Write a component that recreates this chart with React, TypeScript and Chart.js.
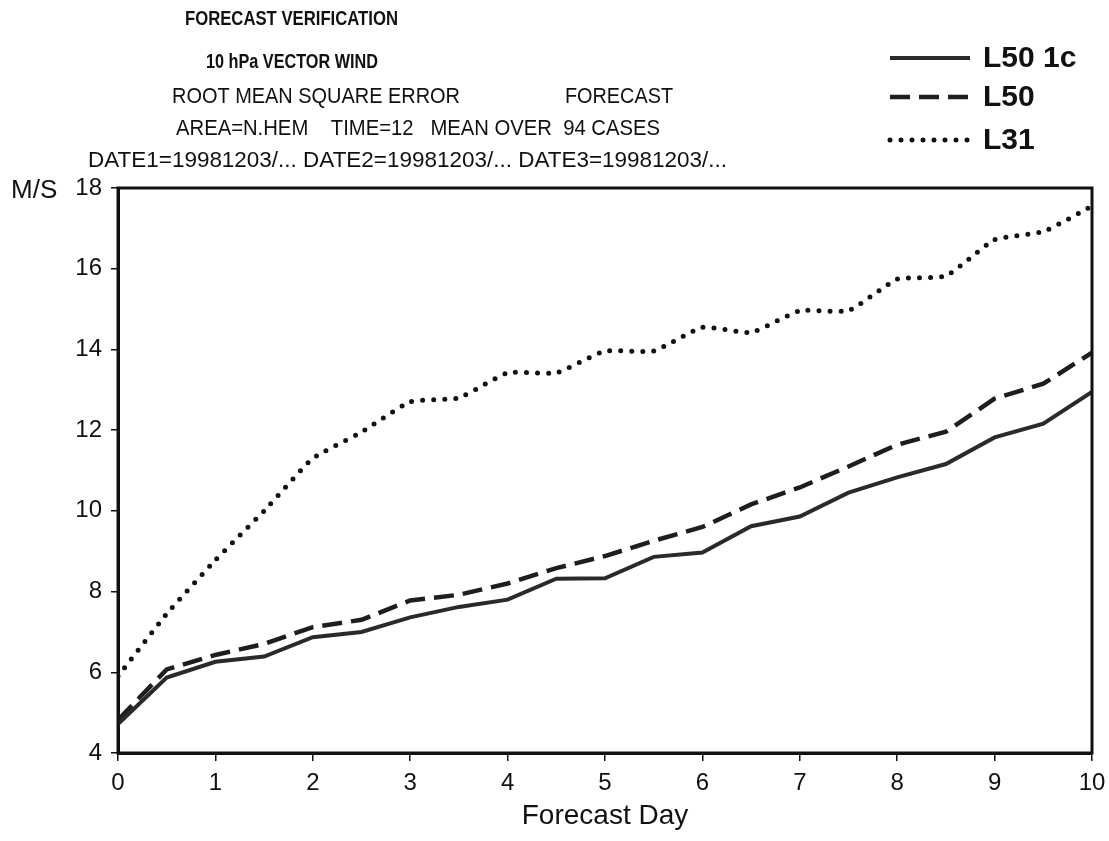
import React, { useEffect, useRef } from "react";
import { Chart, registerables } from "chart.js";

Chart.register(...registerables);

// ---------- data ----------
const forecastDays = [0, 0.5, 1, 1.5, 2, 2.5, 3, 3.5, 4, 4.5, 5, 5.5, 6, 6.5, 7, 7.5, 8, 8.5, 9, 9.5, 10];
const seriesL50_1c = [4.72, 5.87, 6.26, 6.39, 6.87, 7.0, 7.36, 7.62, 7.8, 8.32, 8.33, 8.86, 8.97, 9.62, 9.86, 10.45, 10.83, 11.16, 11.82, 12.16, 12.95];
const seriesL50 = [4.82, 6.07, 6.43, 6.7, 7.12, 7.3, 7.78, 7.92, 8.2, 8.58, 8.88, 9.26, 9.6, 10.16, 10.58, 11.1, 11.64, 11.96, 12.78, 13.15, 13.92];
const seriesL31 = [5.9, 7.45, 8.78, 10.0, 11.3, 11.95, 12.7, 12.8, 13.42, 13.42, 13.96, 13.96, 14.55, 14.42, 14.96, 14.96, 15.74, 15.82, 16.72, 16.92, 17.55];
const seriesNames = ["L50 1c", "L50", "L31"];
const yTickValues = [4, 6, 8, 10, 12, 14, 16, 18];
const xTickValues = [0, 1, 2, 3, 4, 5, 6, 7, 8, 9, 10];
const titleText = ["FORECAST VERIFICATION", "10 hPa VECTOR WIND"];
const infoText = [
  "ROOT MEAN SQUARE ERROR",
  "FORECAST",
  "AREA=N.HEM    TIME=12   MEAN OVER  94 CASES",
  "DATE1=19981203/... DATE2=19981203/... DATE3=19981203/...",
];
const yAxisTitle = "M/S";
const xAxisTitle = "Forecast Day";

// ---------- layout (positions / styles) ----------
const W = 1109;
const H = 841;
const FONT = "'Liberation Sans', Arial, Helvetica, sans-serif";
const INK = "#111";

// [x start, y middle, max width, font size]
const titleLayout = [
  [185, 19, 213, 21],
  [206, 62, 172, 21],
];
const infoLayout = [
  [172, 97, 288, 22],
  [565, 97, 108, 22],
  [176, 129, 484, 22],
  [88, 161, 639, 22.5],
];
const legendLayout = { x1: 890, x2: 970, textX: 983, ys: [58, 97, 140], widths: [100, 57, 52] };

const overlayPlugin = {
  id: "overlay",
  afterDraw(chart: any) {
    const ctx: CanvasRenderingContext2D = chart.ctx;
    const a = chart.chartArea;
    ctx.save();
    // frame
    ctx.strokeStyle = INK;
    ctx.lineWidth = 3;
    ctx.strokeRect(a.left, a.top, a.right - a.left, a.bottom - a.top);

    ctx.fillStyle = INK;
    ctx.textBaseline = "middle";
    ctx.textAlign = "left";
    // titles
    titleText.forEach((t, i) => {
      const [x, y, w, fs] = titleLayout[i];
      ctx.font = `bold ${fs}px ${FONT}`;
      ctx.fillText(t, x, y, w);
    });
    infoText.forEach((t, i) => {
      const [x, y, w, fs] = infoLayout[i];
      ctx.font = `${fs}px ${FONT}`;
      ctx.fillText(t, x, y, w);
    });
    // axis titles
    ctx.font = `26px ${FONT}`;
    ctx.fillText(yAxisTitle, 11, 191, 49);
    ctx.font = `28px ${FONT}`;
    ctx.textAlign = "center";
    ctx.fillText(xAxisTitle, (a.left + a.right) / 2, 816, 178);

    // legend
    ctx.textAlign = "left";
    chart.data.datasets.forEach((ds: any, i: number) => {
      const y = legendLayout.ys[i];
      ctx.save();
      ctx.strokeStyle = ds.borderColor;
      ctx.lineWidth = ds.borderWidth;
      ctx.setLineDash(ds.borderDash || []);
      ctx.lineCap = ds.borderCapStyle || "butt";
      ctx.beginPath();
      ctx.moveTo(legendLayout.x1, y);
      ctx.lineTo(legendLayout.x2, y);
      ctx.stroke();
      ctx.restore();
      ctx.font = `bold 30px ${FONT}`;
      ctx.fillStyle = INK;
      ctx.fillText(ds.label, legendLayout.textX, y + 1, legendLayout.widths[i]);
    });
    ctx.restore();
  },
};

export default function App() {
  const ref = useRef<HTMLCanvasElement | null>(null);

  useEffect(() => {
    if (!ref.current) return;
    const toPts = (vals: number[]) => vals.map((v, i) => ({ x: forecastDays[i], y: v }));
    const chart = new Chart(ref.current, {
      type: "line",
      data: {
        datasets: [
          {
            label: seriesNames[0],
            data: toPts(seriesL50_1c),
            borderColor: "#2a2a2a",
            borderWidth: 4,
            pointRadius: 0,
            tension: 0,
          },
          {
            label: seriesNames[1],
            data: toPts(seriesL50),
            borderColor: "#1e1e1e",
            borderWidth: 4.5,
            borderDash: [20, 9],
            pointRadius: 0,
            tension: 0,
          },
          {
            label: seriesNames[2],
            data: toPts(seriesL31),
            borderColor: "#111",
            borderWidth: 5,
            borderDash: [0, 11],
            borderCapStyle: "round",
            pointRadius: 0,
            tension: 0.15,
          },
        ] as any,
      },
      options: {
        responsive: false,
        animation: false,
        layout: { padding: { left: 0, right: 17, top: 188, bottom: 0 } },
        plugins: {
          legend: { display: false },
          tooltip: { enabled: false },
          title: { display: false },
        },
        scales: {
          x: {
            type: "linear",
            min: 0,
            max: 10,
            afterBuildTicks: (s: any) => {
              s.ticks = xTickValues.map((v) => ({ value: v }));
            },
            afterFit: (s: any) => {
              s.height = 88;
              s.paddingLeft = 0;
              s.paddingRight = 0;
            },
            ticks: {
              color: INK,
              font: { family: FONT, size: 24 },
              padding: 8,
              maxRotation: 0,
            },
            grid: {
              drawOnChartArea: false,
              drawTicks: true,
              tickLength: 8,
              color: INK,
              lineWidth: 1.5,
            },
            border: { display: true, color: INK, width: 3 },
          },
          y: {
            type: "linear",
            min: 4,
            max: 18,
            afterBuildTicks: (s: any) => {
              s.ticks = yTickValues.map((v) => ({ value: v }));
            },
            afterFit: (s: any) => {
              s.width = 118;
              s.paddingTop = 0;
              s.paddingBottom = 0;
            },
            ticks: {
              color: INK,
              font: { family: FONT, size: 24 },
              padding: 9,
            },
            grid: {
              drawOnChartArea: false,
              drawTicks: true,
              tickLength: 7,
              color: INK,
              lineWidth: 1.5,
            },
            border: { display: true, color: INK, width: 3 },
          },
        },
      },
      plugins: [overlayPlugin],
    });
    return () => chart.destroy();
  }, []);

  return (
    <div style={{ position: "absolute", left: 0, top: 0, width: W, height: H, background: "#fff" }}>
      <canvas ref={ref} width={W} height={H} style={{ display: "block" }} />
    </div>
  );
}
